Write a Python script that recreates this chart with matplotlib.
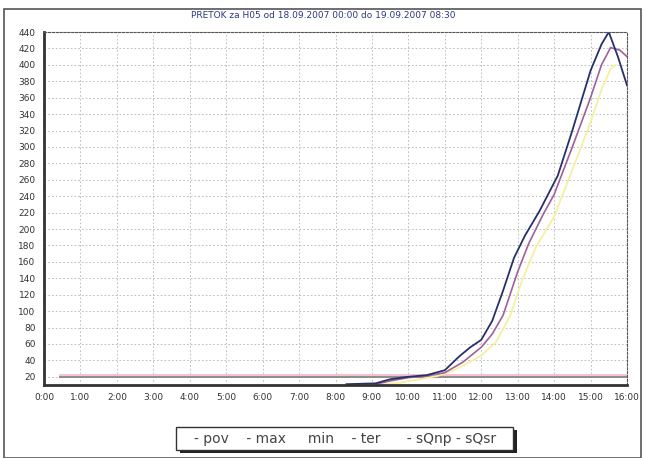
import matplotlib
matplotlib.use("Agg")
import matplotlib.pyplot as plt
from matplotlib.patches import Rectangle

# hours since 0:00 and flow values
max_t = [8.3, 9.1, 9.5, 10.0, 10.5, 11.0, 11.4, 11.7, 12.0, 12.3, 12.6, 12.9, 13.2, 13.6, 14.1, 14.5, 15.0, 15.3, 15.5, 15.75, 16.0]
max_v = [11, 12, 17, 20, 22, 28, 45, 56, 65, 88, 125, 165, 192, 222, 265, 320, 393, 425, 440, 410, 375]

ter_t = [9.1, 9.5, 10.0, 10.5, 11.0, 11.5, 12.0, 12.3, 12.6, 13.0, 13.3, 13.7, 14.0, 14.5, 15.0, 15.3, 15.55, 15.8, 16.0]
ter_v = [11, 15, 19, 21, 25, 38, 56, 72, 95, 148, 182, 218, 242, 300, 360, 400, 421, 418, 410]

min_t = [9.3, 9.8, 10.3, 10.8, 11.2, 11.6, 12.0, 12.4, 12.8, 13.1, 13.5, 14.0, 14.5, 15.0, 15.3, 15.55, 15.7]
min_v = [11, 13, 17, 21, 27, 36, 46, 62, 95, 135, 178, 215, 272, 330, 370, 395, 400]

sq_t = [0.45, 16.0]
sqnp_v = [22, 22]
sqsr_v = [20, 20]

xticks = list(range(0, 17))
xlabels = ["%d:00" % h for h in xticks]
yticks = list(range(20, 441, 20))

fig = plt.figure(figsize=(6.47, 4.58), dpi=100)
fig.patch.set_facecolor("white")

# outer frame of the screenshot
fig.patches.append(Rectangle((4 / 647, 0), 637 / 647, 449 / 458, transform=fig.transFigure,
                             fill=False, edgecolor="#555555", lw=1.2))

ax = fig.add_axes([44 / 647, 73 / 458, 583 / 647, 353 / 458])
ax.set_xlim(0, 16)
ax.set_ylim(10, 440)

ax.grid(True, color="#b4b4b4", linestyle=(0, (2, 2.5)), lw=0.6)
ax.plot(sq_t, sqnp_v, color="#f2b8c6", lw=1.2)
ax.plot(sq_t, sqsr_v, color="#8c8c8c", lw=1.4)
ax.plot(min_t, min_v, color="#f5f0a0", lw=1.3)
ax.plot(ter_t, ter_v, color="#a0609a", lw=1.2)
ax.plot(max_t, max_v, color="#28306a", lw=1.3)

ax.set_xticks(xticks)
ax.set_xticklabels(xlabels)
ax.set_yticks(yticks)
ax.tick_params(labelsize=6.5, length=0, colors="#333333", pad=6)
for s in ["top", "right"]:
    ax.spines[s].set_linestyle((0, (2, 1.5)))
    ax.spines[s].set_color("#555555")
for s in ["left", "bottom"]:
    ax.spines[s].set_linewidth(2)
    ax.spines[s].set_color("#333333")

fig.text(0.5, 1 - 16 / 458, "PRETOK za H05 od 18.09.2007 00:00 do 19.09.2007 08:30",
         ha="center", va="center", fontsize=6.5, color="#2a3a80")

# legend box with shadow
fig.patches.append(Rectangle((180 / 647, 5 / 458), 337 / 647, 23 / 458, transform=fig.transFigure,
                             facecolor="#222222", edgecolor="none"))
fig.patches.append(Rectangle((176 / 647, 8 / 458), 337 / 647, 23 / 458, transform=fig.transFigure,
                             facecolor="white", edgecolor="#333333", lw=1))
fig.text(345 / 647, 19.5 / 458, "- pov    - max     min    - ter      - sQnp - sQsr",
         ha="center", va="center", fontsize=10, color="#444444")

fig.savefig("out.png", dpi=100)
